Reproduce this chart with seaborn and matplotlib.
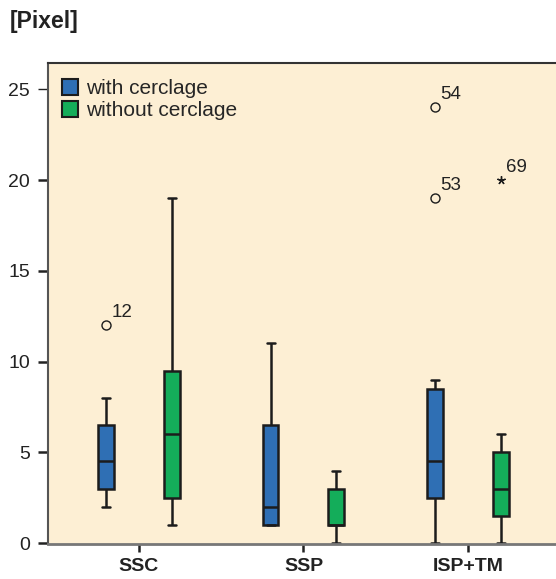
## Box plot of pixel displacement per group, with and without cerclage (SPSS style)

import numpy as np
import pandas as pd
import matplotlib
matplotlib.use("Agg")
import matplotlib.pyplot as plt
import seaborn as sns

groups = ["SSC", "SSP", "ISP+TM"]
hues = ["with cerclage", "without cerclage"]

ssc_with = [2, 2.5, 3, 4, 4.5, 5, 6.5, 8, 12]
ssc_without = [1, 2, 2.5, 4, 6, 8, 9.5, 14, 19]
ssp_with = [1, 1, 1, 1.5, 2, 4, 6.5, 9, 11]
ssp_without = [0, 1, 1, 1, 1, 2, 3, 3.5, 4]
isp_with = [0, 1, 2, 2.5, 3, 4, 4.5, 5, 7, 8.5, 9, 19, 24]
isp_without = [0, 1, 1.5, 2, 3, 4, 5, 6, 20]

## case numbers of the outliers, lowest value first
case_ids = {("SSC", "with cerclage"): ["12"],
            ("ISP+TM", "with cerclage"): ["53", "54"],
            ("ISP+TM", "without cerclage"): ["69"]}

colors = ["#2f6fb4", "#14ad5a"]

values = {("SSC", hues[0]): ssc_with, ("SSC", hues[1]): ssc_without,
          ("SSP", hues[0]): ssp_with, ("SSP", hues[1]): ssp_without,
          ("ISP+TM", hues[0]): isp_with, ("ISP+TM", hues[1]): isp_without}

rows = [(g, h, v) for (g, h), vals in values.items() for v in vals]
df = pd.DataFrame(rows, columns=["group", "cerclage", "pixel"])

sns.set_style("ticks")
plt.rcParams["font.family"] = ["Liberation Sans", "DejaVu Sans"]

fig = plt.figure(figsize=(5.56, 5.79), dpi=100)
ax = fig.add_axes([0.0863, 0.0604, 0.9137, 0.8308])
ax.set_facecolor("#fdefd4")

sns.boxplot(data=df, x="group", y="pixel", hue="cerclage", order=groups, hue_order=hues,
            palette=colors, width=0.8, gap=0.76, whis=1.5, showfliers=False,
            linecolor="#1c1c1c", linewidth=1.8, saturation=1, ax=ax)

## outliers (o) and extremes (*) with their case numbers
for gi, g in enumerate(groups):
    for hi, h in enumerate(hues):
        vals = np.array(values[(g, h)], dtype=float)
        q1, q3 = np.percentile(vals, [25, 75])
        iqr = q3 - q1
        out = np.sort(vals[(vals > q3 + 1.5*iqr) | (vals < q1 - 1.5*iqr)])
        xpos = gi + (hi - 0.5) * 0.4
        for v, cid in zip(out, case_ids.get((g, h), [])):
            extreme = (v > q3 + 3*iqr) or (v < q1 - 3*iqr)
            if extreme:
                ax.plot(xpos, v, marker=(5, 2, 0), ms=6, mew=1.0, color="#1c1c1c")
            else:
                ax.plot(xpos, v, marker="o", ms=6.5, mew=1.0, mfc="none", mec="#1c1c1c")
            ax.annotate(cid, (xpos, v), xytext=(4, 3), textcoords="offset points",
                        fontsize=13.5, color="#222222", ha="left", va="bottom")

handles, labels = ax.get_legend_handles_labels()
for hnd in handles:
    hnd.set_edgecolor("#1c1c1c")
    hnd.set_linewidth(1.5)
ax.legend(handles, labels, loc="upper left", bbox_to_anchor=(0.027, 0.967), frameon=False,
          fontsize=15, handlelength=0.8, handleheight=0.8, handletextpad=0.35,
          labelspacing=0.15, borderpad=0, borderaxespad=0)

ax.set_xlim(-0.553, 2.535)
ax.set_ylim(-0.05, 26.45)
ax.set_yticks([0, 5, 10, 15, 20, 25])
ax.set_xlabel("")
ax.set_ylabel("")
ax.tick_params(axis="y", length=7, width=1.8, pad=6, labelsize=14, colors="#222222")
ax.tick_params(axis="x", length=6, width=1.8, pad=4, labelsize=14, colors="#222222")
for lab in ax.get_xticklabels():
    lab.set_fontweight("bold")
ax.yaxis.get_major_ticks()[-1].tick1line.set_markeredgewidth(1.0)

ax.spines["right"].set_visible(False)
ax.spines["top"].set_visible(True)
ax.spines["top"].set_color("#333333")
ax.spines["top"].set_linewidth(1.5)
ax.spines["left"].set_color("#555555")
ax.spines["left"].set_linewidth(1.5)
ax.spines["bottom"].set_color("#777777")
ax.spines["bottom"].set_linewidth(2)

fig.text(0.018, 0.963, "[Pixel]", fontsize=16.5, fontweight="bold", va="center", color="#222222")

fig.savefig("out.png", dpi=100)
